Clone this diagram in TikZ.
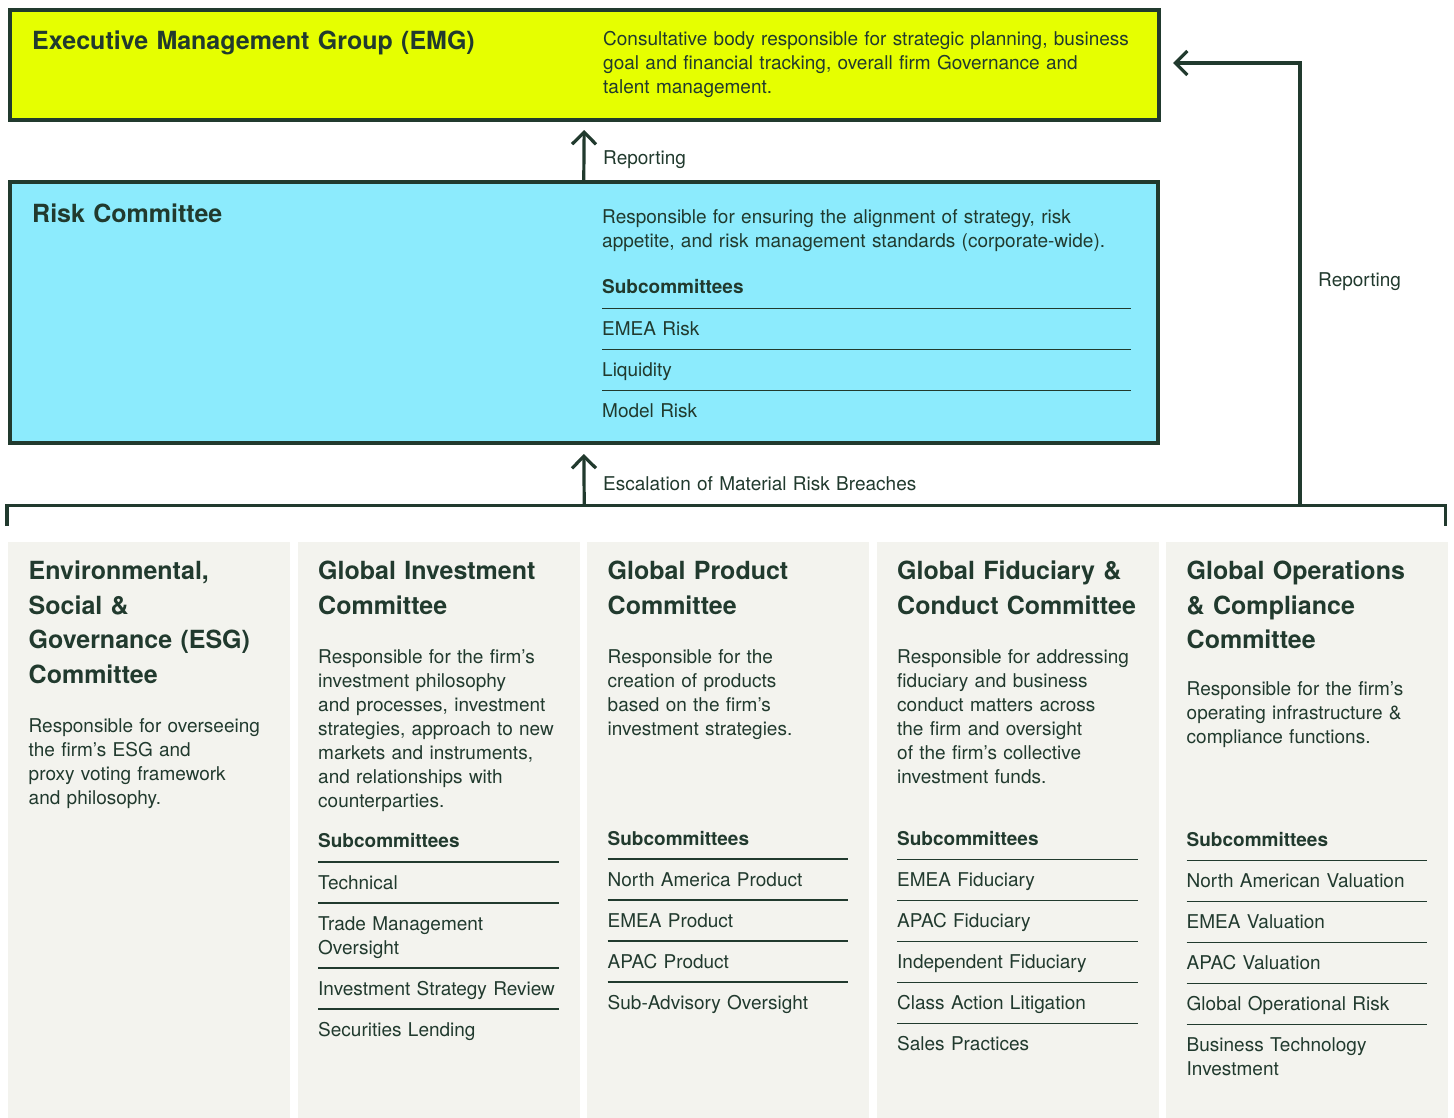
\documentclass[tikz,border=0pt]{standalone}
\usepackage{fontspec}
\setmainfont{TeX Gyre Heros}
\usetikzlibrary{arrows.meta}
\definecolor{ink}{HTML}{213A2E}
\definecolor{lime}{HTML}{E6FF00}
\definecolor{sky}{HTML}{8CEBFD}
\definecolor{paper}{HTML}{F3F3EE}
\begin{document}
\begin{tikzpicture}[x=1pt,y=-1pt,
  bigbox/.style={draw=ink, line width=4pt, anchor=north west, inner sep=0pt, outer sep=0pt},
  colbox/.style={fill=paper, anchor=north west, inner sep=0pt, outer sep=0pt, minimum width=282pt, minimum height=576pt},
  txt/.style={anchor=base west, inner sep=0pt, text width=600pt, align=left, text=ink},
  title/.style={txt, font=\fontsize{25}{34.5}\selectfont\bfseries},
  body/.style={txt, font=\fontsize{19}{24}\selectfont},
  subhead/.style={txt, font=\fontsize{19}{24}\selectfont\bfseries},
  rule/.style={draw=ink, line width=1.1pt},
  conn/.style={draw=ink, line width=3.2pt},
  arr/.style={conn, -{Straight Barb[length=12pt,width=24pt]}}
]
\useasboundingbox[fill=white] (0,0) rectangle (1454,1117);

% ---------- top boxes
\node[bigbox, fill=lime, minimum width=1149.5pt, minimum height=110.5pt] (emg) at (9.5,9.5) {};
\node[bigbox, fill=sky, minimum width=1148.5pt, minimum height=260.5pt] (risk) at (9.5,182) {};

\node[title] (emgt) at (32,49) {Executive Management Group (EMG)};
\node[body] (emgd) at (603,45) {Consultative body responsible for strategic planning, business\\ goal and financial tracking, overall firm Governance and\\ talent management.};

\node[title] (riskt) at (32,222) {Risk Committee};
\node[body] (riskd) at (602,223) {Responsible for ensuring the alignment of strategy, risk\\ appetite, and risk management standards (corporate-wide).};
\node[subhead] (risks) at (602,293.5) {Subcommittees};
\draw[rule] (602,308.3) -- (1131,308.3);
\node[body] (risk1) at (602,335.3) {EMEA Risk};
\draw[rule] (602,349.3) -- (1131,349.3);
\node[body] (risk2) at (602,376.3) {Liquidity};
\draw[rule] (602,390.3) -- (1131,390.3);
\node[body] (risk3) at (602,417.3) {Model Risk};

% ---------- connectors
\coordinate (bl) at (7,526);
\coordinate (blt) at (7,505.5);
\coordinate (brt) at (1445.5,505.5);
\coordinate (br) at (1445.5,526);
\coordinate (esc) at (584.25,505.5);
\coordinate (rep) at (1300,505.5);
\coordinate (repc) at (1300,63);
\draw[conn, line join=miter] (bl) -- (blt) -- (brt) -- (br);
\draw[arr, shorten >=10pt] (risk.north) -- (emg.south);
\draw[arr, shorten >=11.5pt] (esc) -- (risk.south);
\draw[arr, line join=miter, shorten >=14pt] (rep) -- (repc) -- (emg.east |- repc);

\node[body] (lrep1) at (603,164.3) {Reporting};
\node[body] (lesc) at (603,490) {Escalation of Material Risk Breaches};
\node[body] (lrep2) at (1318,286) {Reporting};

% ---------- columns
\node[colbox] (c1) at (8,541.5) {};
\node[colbox] (c2) at (297.5,541.5) {};
\node[colbox] (c3) at (587,541.5) {};
\node[colbox] (c4) at (876.5,541.5) {};
\node[colbox] (c5) at (1166,541.5) {};

% column 1
\node[title] (c1t) at (28.5,579.5) {Environmental,\\ Social \&\\ Governance (ESG)\\ Committee};
\node[body] (c1d) at (28.5,732) {Responsible for overseeing\\ the firm’s ESG and\\ proxy voting framework\\ and philosophy.};

% column 2
\node[title] (c2t) at (318,579.5) {Global Investment\\ Committee};
\node[body] (c2d) at (318,663) {Responsible for the firm’s\\ investment philosophy\\ and processes, investment\\ strategies, approach to new\\ markets and instruments,\\ and relationships with\\ counterparties.};
\node[subhead] (c2s) at (318,847.5) {Subcommittees};
\draw[rule] (318,862) -- (558.5,862);
\node[body] (c2i1) at (318,889) {Technical};
\draw[rule] (318,903) -- (558.5,903);
\node[body] (c2i2) at (318,930) {Trade Management\\ Oversight};
\draw[rule] (318,968) -- (558.5,968);
\node[body] (c2i3) at (318,995) {Investment Strategy Review};
\draw[rule] (318,1009) -- (558.5,1009);
\node[body] (c2i4) at (318,1036) {Securities Lending};

% column 3
\node[title] (c3t) at (607.5,579.5) {Global Product\\ Committee};
\node[body] (c3d) at (607.5,663) {Responsible for the\\ creation of products\\ based on the firm’s\\ investment strategies.};
\node[subhead] (c3s) at (607.5,845) {Subcommittees};
\draw[rule] (607.5,859) -- (848,859);
\node[body] (c3i1) at (607.5,886) {North America Product};
\draw[rule] (607.5,900) -- (848,900);
\node[body] (c3i2) at (607.5,927) {EMEA Product};
\draw[rule] (607.5,941) -- (848,941);
\node[body] (c3i3) at (607.5,968) {APAC Product};
\draw[rule] (607.5,982) -- (848,982);
\node[body] (c3i4) at (607.5,1009) {Sub-Advisory Oversight};

% column 4
\node[title] (c4t) at (897,579.5) {Global Fiduciary \&\\ Conduct Committee};
\node[body] (c4d) at (897,663) {Responsible for addressing\\ fiduciary and business\\ conduct matters across\\ the firm and oversight\\ of the firm’s collective\\ investment funds.};
\node[subhead] (c4s) at (897,845) {Subcommittees};
\draw[rule] (897,859.3) -- (1137.5,859.3);
\node[body] (c4i1) at (897,886) {EMEA Fiduciary};
\draw[rule] (897,900.3) -- (1137.5,900.3);
\node[body] (c4i2) at (897,927) {APAC Fiduciary};
\draw[rule] (897,941.3) -- (1137.5,941.3);
\node[body] (c4i3) at (897,968) {Independent Fiduciary};
\draw[rule] (897,982.3) -- (1137.5,982.3);
\node[body] (c4i4) at (897,1009) {Class Action Litigation};
\draw[rule] (897,1023.3) -- (1137.5,1023.3);
\node[body] (c4i5) at (897,1050) {Sales Practices};

% column 5
\node[title] (c5t) at (1186.5,579.5) {Global Operations\\ \& Compliance\\ Committee};
\node[body] (c5d) at (1186.5,695) {Responsible for the firm’s\\ operating infrastructure \&\\ compliance functions.};
\node[subhead] (c5s) at (1186.5,846) {Subcommittees};
\draw[rule] (1186.5,860.5) -- (1427,860.5);
\node[body] (c5i1) at (1186.5,887.5) {North American Valuation};
\draw[rule] (1186.5,901.5) -- (1427,901.5);
\node[body] (c5i2) at (1186.5,928.5) {EMEA Valuation};
\draw[rule] (1186.5,942.5) -- (1427,942.5);
\node[body] (c5i3) at (1186.5,969.5) {APAC Valuation};
\draw[rule] (1186.5,983.5) -- (1427,983.5);
\node[body] (c5i4) at (1186.5,1010.5) {Global Operational Risk};
\draw[rule] (1186.5,1024.5) -- (1427,1024.5);
\node[body] (c5i5) at (1186.5,1051.5) {Business Technology\\ Investment};
\end{tikzpicture}
\end{document}
